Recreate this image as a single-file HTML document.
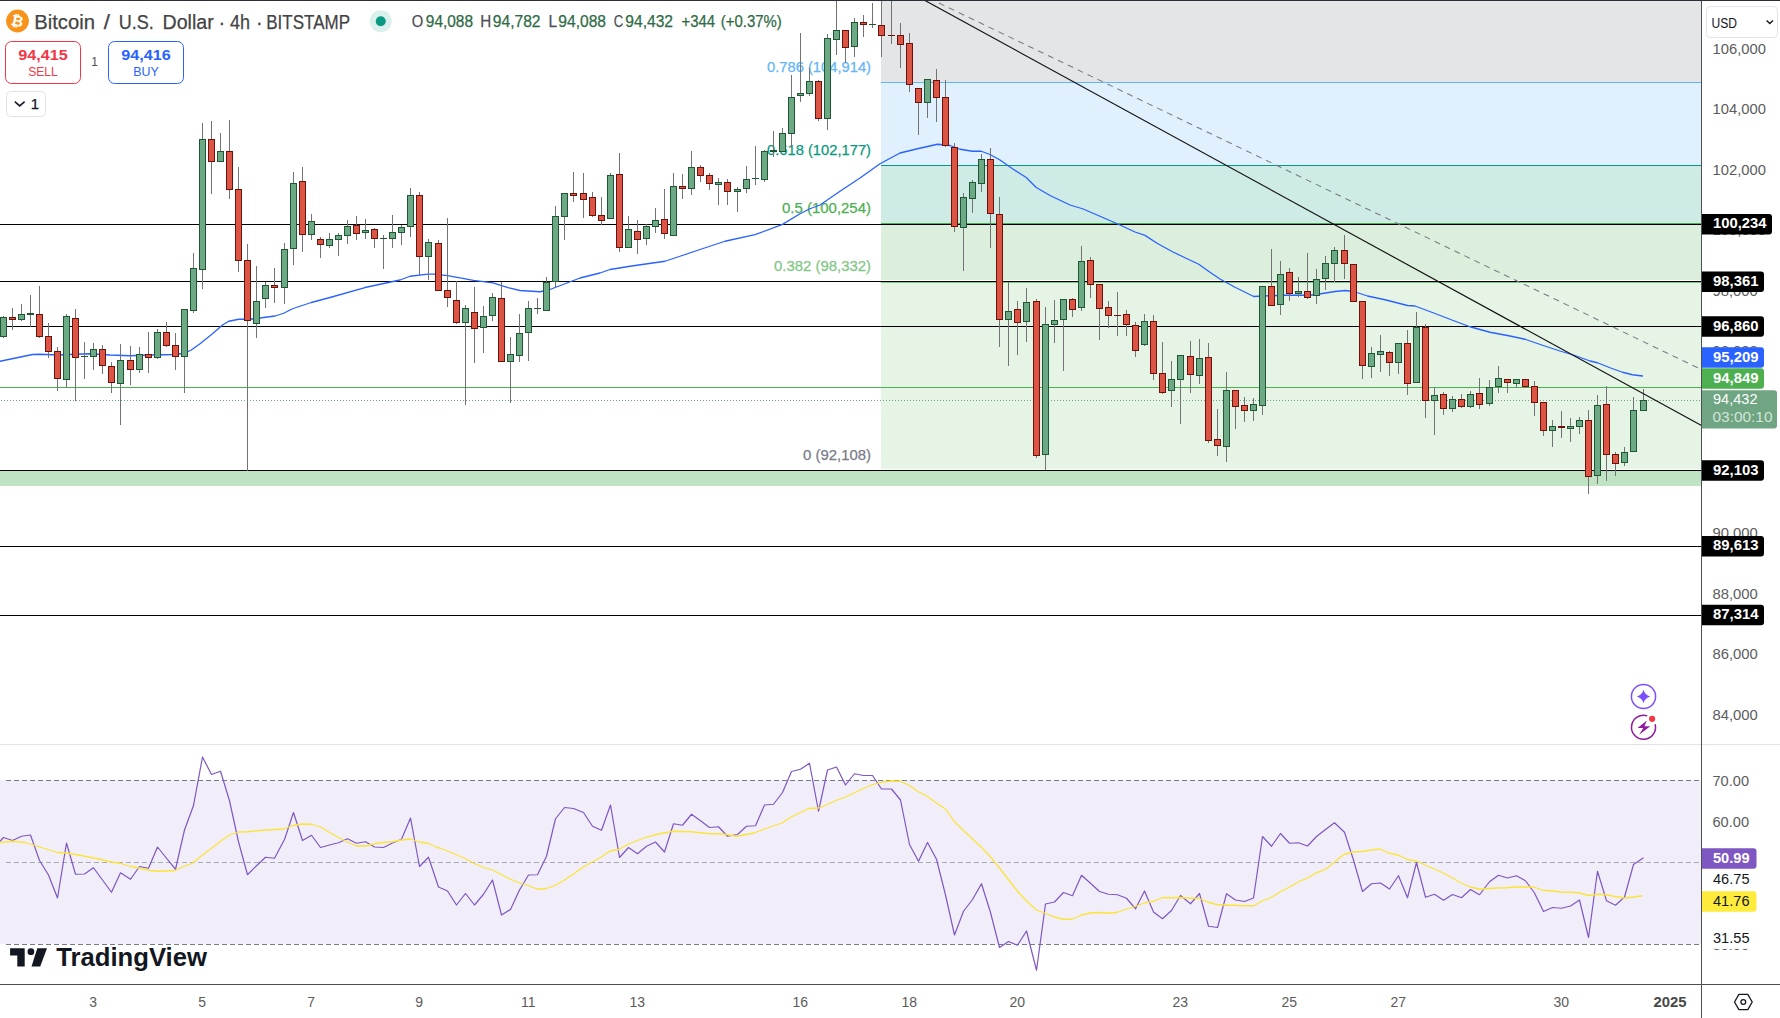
<!DOCTYPE html>
<html lang="en"><head><meta charset="utf-8"><title>BTCUSD 4h chart</title>
<style>
html,body{margin:0;padding:0;background:#fff;}
body{width:1780px;height:1018px;overflow:hidden;font-family:"Liberation Sans", "DejaVu Sans", sans-serif;}
svg{display:block;font-family:"Liberation Sans", "DejaVu Sans", sans-serif;}
text{stroke-width:0.25px;stroke-linejoin:round}
.cr{shape-rendering:crispEdges}
</style></head><body>
<svg width="1780" height="1018" viewBox="0 0 1780 1018">
<rect width="1780" height="1018" fill="#ffffff"/>

<g class="cr">
<rect x="881" y="1" width="820" height="81" fill="#e4e5e7" />
<rect x="881" y="82" width="820" height="83" fill="#e0f0fd" />
<rect x="881" y="165" width="820" height="59" fill="#ceebe6" />
<rect x="881" y="225" width="820" height="55" fill="#dcefdc" />
<rect x="881" y="283" width="820" height="186" fill="#e6f4e6" />
<rect x="881" y="82" width="820" height="1" fill="#64b5f6" />
<rect x="881" y="165" width="820" height="1" fill="#089981" />
<rect x="881" y="223" width="820" height="1" fill="#4caf50" />
<rect x="881" y="282" width="820" height="1" fill="#81c784" />
<rect x="881" y="470" width="820" height="1" fill="#787b86" />
<rect x="0" y="471" width="1701" height="14.5" fill="#c0e3c3" />
<rect x="0" y="387" width="1701" height="1" fill="#4caf50" />
<rect x="0" y="224" width="1701" height="1" fill="#000000" />
<rect x="0" y="281" width="1701" height="1" fill="#000000" />
<rect x="0" y="326" width="1701" height="1" fill="#000000" />
<rect x="0" y="470" width="1701" height="1" fill="#000000" />
<rect x="0" y="546" width="1701" height="1" fill="#000000" />
<rect x="0" y="615" width="1701" height="1" fill="#000000" />
</g>
<line x1="0.5" y1="400.5" x2="1701" y2="400.5" stroke="#6fa582" stroke-width="1" stroke-dasharray="1 2" class="cr"/>
<text x="871" y="72.37" font-size="15" fill="#64b5f6" stroke="#64b5f6" font-weight="normal" text-anchor="end" textLength="104" lengthAdjust="spacingAndGlyphs" >0.786 (104,914)</text>
<text x="871" y="155.37" font-size="15" fill="#089981" stroke="#089981" font-weight="normal" text-anchor="end" textLength="104" lengthAdjust="spacingAndGlyphs" >0.618 (102,177)</text>
<text x="871" y="213.37" font-size="15" fill="#4caf50" stroke="#4caf50" font-weight="normal" text-anchor="end" textLength="89" lengthAdjust="spacingAndGlyphs" >0.5 (100,254)</text>
<text x="871" y="271.37" font-size="15" fill="#81c784" stroke="#81c784" font-weight="normal" text-anchor="end" textLength="97" lengthAdjust="spacingAndGlyphs" >0.382 (98,332)</text>
<text x="871" y="460.37" font-size="15" fill="#787b86" stroke="#787b86" font-weight="normal" text-anchor="end" textLength="68" lengthAdjust="spacingAndGlyphs" >0 (92,108)</text>
<polyline points="0,361.25 32.5,354.5 40,354.25 57.5,355 75,354.25 90,353.75 110,355 130,355.75 150,355 175,354.5 185,353 191.25,350 200,343.75 212.5,333.75 222.5,325 228.75,321.25 238.75,319.25 250,319.25 260,318 275,316 283.75,313.25 292.5,308.75 311.25,302.5 330,297.5 365,287.5 400,280 410,276.25 428,274.2 434.6,274.2 447.6,275.7 473.5,280.4 493,282.8 508,287.6 520,290.5 540,291.75 550,289.5 565,283.75 580,278 600,273 610,269.5 630,266.25 665,261.25 680,256.25 700,249.5 725,241.25 755,234.7 782.5,224.4 800,213.75 810,208.75 820,205 840,191.25 860,178 880,163.75 900,153 917.5,148.75 937.5,144.25 950,145.5 960,149.25 972.5,151.25 981.25,151.25 990,154.5 1000,160 1012.5,168.75 1026.25,177.5 1036.25,187.5 1050,195.5 1070,205 1082.5,208.75 1100,216.25 1120,225 1135,232 1145,235.4 1157.5,243.5 1172.5,251.75 1185,257.75 1198.75,264.25 1210,272.25 1220,279 1235,287.25 1253.75,296.5 1262.5,296 1285,295.25 1310,295.25 1322.5,293.5 1335,291.5 1345,290.5 1353.75,291.5 1367.5,296 1385,299.75 1407.5,305.5 1415,306 1435,313.5 1452.5,320.25 1470,326.75 1490,332.25 1510,336 1525,339.25 1542.5,345.25 1560,351 1575,355.5 1590,361 1597.5,362.75 1610,367.75 1622.5,372.25 1632.5,374.75 1642.5,376" fill="none" stroke="#2962ff" stroke-width="1.3" stroke-linejoin="round" stroke-linecap="round"/>
<g class="cr">
<path d="M3.5,316V338M12.5,308V330M21.5,304V321M30.5,295V327M39.5,286V338M48.5,323V358M57.5,347V391M66.5,314V388M75.5,309V401M84.5,342V379M93.5,343V370M102.5,345V374M111.5,362V393M120.5,344V425M130.5,346V385M139.5,347V373M148.5,332V373M157.5,329V359M166.5,322V347M175.5,333V370M184.5,309V393M193.5,253V313M202.5,123V289M211.5,121V194M220.5,133V162M229.5,120V199M238.5,167V272M247.5,244V471M256.5,266V338M265.5,282V308M274.5,268V303M284.5,243V304M293.5,172V265M302.5,167V252M311.5,214V240M320.5,237V258M329.5,233V248M338.5,233V256M347.5,220V244M356.5,216V240M365.5,219V239M374.5,228V248M383.5,235V269M392.5,215V248M401.5,225V245M410.5,188V237M419.5,192V275M428.5,239V280M438.5,240V291M447.5,218V307M456.5,281V324M465.5,305V405M474.5,287V363M483.5,306V353M492.5,293V321M501.5,282V362M510.5,337V403M519.5,314V362M528.5,301V361M537.5,298V314M546.5,277V311M555.5,206V287M564.5,193V240M573.5,172V202M583.5,173V218M592.5,192V217M601.5,197V225M610.5,173V219M619.5,153V252M628.5,216V248M637.5,220V254M646.5,224V245M655.5,208V233M664.5,189V239M673.5,173V236M682.5,174V199M691.5,151V195M700.5,165V182M709.5,173V190M718.5,178V205M727.5,179V205M737.5,187V212M746.5,166V193M755.5,146V185M764.5,150V182M773.5,131V157M782.5,128V152M791.5,75V148M800.5,33V102M809.5,68V96M818.5,80V121M827.5,34V130M836.5,1V55M845.5,30V63M854.5,18V57M863.5,15V37M872.5,3V28M881.5,1V57M891.5,1V44M900.5,23V68M909.5,33V92M918.5,88V135M927.5,79V118M936.5,69V122M945.5,80V147M954.5,143V232M963.5,193V271M972.5,180V213M981.5,154V192M990.5,148V248M999.5,197V347M1008.5,282V366M1017.5,301V355M1026.5,288V342M1036.5,299V458M1045.5,307V470M1054.5,300V343M1063.5,299V371M1072.5,298V317M1081.5,246V311M1090.5,257V298M1099.5,284V340M1108.5,301V328M1117.5,292V336M1126.5,310V336M1135.5,322V357M1144.5,314V346M1153.5,315V380M1162.5,342V394M1171.5,361V407M1180.5,355V424M1190.5,341V393M1199.5,339V384M1208.5,343V443M1217.5,409V456M1226.5,372V462M1235.5,390V429M1244.5,397V422M1253.5,398V421M1262.5,286V415M1271.5,249V306M1280.5,261V315M1289.5,268V301M1298.5,277V297M1307.5,253V299M1316.5,269V304M1325.5,256V290M1334.5,247V282M1344.5,235V279M1353.5,264V302M1362.5,301V379M1371.5,347V378M1380.5,335V372M1389.5,351V376M1398.5,343V374M1407.5,330V395M1416.5,312V383M1425.5,324V418M1434.5,387V435M1443.5,392V415M1452.5,396V412M1461.5,394V408M1470.5,391V408M1479.5,378V409M1489.5,380V406M1498.5,366V393M1507.5,379V393M1516.5,379V388M1525.5,379V388M1534.5,381V416M1543.5,402V436M1552.5,420V447M1561.5,411V438M1570.5,418V442M1579.5,417V434M1588.5,410V494M1597.5,395V484M1606.5,386V481M1615.5,452V476M1624.5,447V466M1633.5,397V452M1643.5,389V411" stroke="#737375" stroke-width="1" fill="none"/>
<rect x="0.5" y="317.5" width="6" height="19" fill="#6ea985" stroke="#1f5734" stroke-width="1"/>
<rect x="18.5" y="314.5" width="6" height="5" fill="#6ea985" stroke="#1f5734" stroke-width="1"/>
<rect x="27" y="313" width="7" height="2" fill="#1f5734"/>
<rect x="63.5" y="316.5" width="6" height="63" fill="#6ea985" stroke="#1f5734" stroke-width="1"/>
<rect x="81" y="356" width="7" height="1" fill="#1f5734"/>
<rect x="90.5" y="349.5" width="6" height="7" fill="#6ea985" stroke="#1f5734" stroke-width="1"/>
<rect x="117.5" y="360.5" width="6" height="23" fill="#6ea985" stroke="#1f5734" stroke-width="1"/>
<rect x="136.5" y="354.5" width="6" height="15" fill="#6ea985" stroke="#1f5734" stroke-width="1"/>
<rect x="154.5" y="332.5" width="6" height="25" fill="#6ea985" stroke="#1f5734" stroke-width="1"/>
<rect x="181.5" y="309.5" width="6" height="47" fill="#6ea985" stroke="#1f5734" stroke-width="1"/>
<rect x="190.5" y="268.5" width="6" height="42" fill="#6ea985" stroke="#1f5734" stroke-width="1"/>
<rect x="199.5" y="139.5" width="6" height="130" fill="#6ea985" stroke="#1f5734" stroke-width="1"/>
<rect x="217.5" y="151.5" width="6" height="10" fill="#6ea985" stroke="#1f5734" stroke-width="1"/>
<rect x="253.5" y="301.5" width="6" height="22" fill="#6ea985" stroke="#1f5734" stroke-width="1"/>
<rect x="262.5" y="285.5" width="6" height="13" fill="#6ea985" stroke="#1f5734" stroke-width="1"/>
<rect x="281.5" y="249.5" width="6" height="38" fill="#6ea985" stroke="#1f5734" stroke-width="1"/>
<rect x="290.5" y="183.5" width="6" height="65" fill="#6ea985" stroke="#1f5734" stroke-width="1"/>
<rect x="308.5" y="221.5" width="6" height="13" fill="#6ea985" stroke="#1f5734" stroke-width="1"/>
<rect x="326.5" y="239.5" width="6" height="6" fill="#6ea985" stroke="#1f5734" stroke-width="1"/>
<rect x="335.5" y="235.5" width="6" height="4" fill="#6ea985" stroke="#1f5734" stroke-width="1"/>
<rect x="344.5" y="226.5" width="6" height="9" fill="#6ea985" stroke="#1f5734" stroke-width="1"/>
<rect x="362.5" y="230.5" width="6" height="2" fill="#6ea985" stroke="#1f5734" stroke-width="1"/>
<rect x="380" y="238" width="7" height="1" fill="#1f5734"/>
<rect x="389.5" y="232.5" width="6" height="6" fill="#6ea985" stroke="#1f5734" stroke-width="1"/>
<rect x="398.5" y="227.5" width="6" height="5" fill="#6ea985" stroke="#1f5734" stroke-width="1"/>
<rect x="407.5" y="195.5" width="6" height="31" fill="#6ea985" stroke="#1f5734" stroke-width="1"/>
<rect x="425.5" y="242.5" width="6" height="14" fill="#6ea985" stroke="#1f5734" stroke-width="1"/>
<rect x="462.5" y="308.5" width="6" height="14" fill="#6ea985" stroke="#1f5734" stroke-width="1"/>
<rect x="480.5" y="316.5" width="6" height="11" fill="#6ea985" stroke="#1f5734" stroke-width="1"/>
<rect x="489.5" y="297.5" width="6" height="18" fill="#6ea985" stroke="#1f5734" stroke-width="1"/>
<rect x="507.5" y="354.5" width="6" height="7" fill="#6ea985" stroke="#1f5734" stroke-width="1"/>
<rect x="516.5" y="333.5" width="6" height="22" fill="#6ea985" stroke="#1f5734" stroke-width="1"/>
<rect x="525.5" y="308.5" width="6" height="24" fill="#6ea985" stroke="#1f5734" stroke-width="1"/>
<rect x="534" y="308" width="7" height="1" fill="#1f5734"/>
<rect x="543.5" y="282.5" width="6" height="28" fill="#6ea985" stroke="#1f5734" stroke-width="1"/>
<rect x="552.5" y="216.5" width="6" height="65" fill="#6ea985" stroke="#1f5734" stroke-width="1"/>
<rect x="561.5" y="193.5" width="6" height="23" fill="#6ea985" stroke="#1f5734" stroke-width="1"/>
<rect x="607.5" y="175.5" width="6" height="43" fill="#6ea985" stroke="#1f5734" stroke-width="1"/>
<rect x="625.5" y="229.5" width="6" height="18" fill="#6ea985" stroke="#1f5734" stroke-width="1"/>
<rect x="643.5" y="226.5" width="6" height="12" fill="#6ea985" stroke="#1f5734" stroke-width="1"/>
<rect x="652.5" y="220.5" width="6" height="6" fill="#6ea985" stroke="#1f5734" stroke-width="1"/>
<rect x="670.5" y="186.5" width="6" height="49" fill="#6ea985" stroke="#1f5734" stroke-width="1"/>
<rect x="688.5" y="167.5" width="6" height="21" fill="#6ea985" stroke="#1f5734" stroke-width="1"/>
<rect x="715.5" y="182.5" width="6" height="2" fill="#6ea985" stroke="#1f5734" stroke-width="1"/>
<rect x="734.5" y="189.5" width="6" height="2" fill="#6ea985" stroke="#1f5734" stroke-width="1"/>
<rect x="743.5" y="179.5" width="6" height="9" fill="#6ea985" stroke="#1f5734" stroke-width="1"/>
<rect x="752" y="178" width="7" height="1" fill="#1f5734"/>
<rect x="761.5" y="151.5" width="6" height="28" fill="#6ea985" stroke="#1f5734" stroke-width="1"/>
<rect x="770" y="150" width="7" height="2" fill="#1f5734"/>
<rect x="779.5" y="133.5" width="6" height="18" fill="#6ea985" stroke="#1f5734" stroke-width="1"/>
<rect x="788.5" y="97.5" width="6" height="36" fill="#6ea985" stroke="#1f5734" stroke-width="1"/>
<rect x="797.5" y="93.5" width="6" height="2" fill="#6ea985" stroke="#1f5734" stroke-width="1"/>
<rect x="806.5" y="81.5" width="6" height="12" fill="#6ea985" stroke="#1f5734" stroke-width="1"/>
<rect x="824.5" y="38.5" width="6" height="80" fill="#6ea985" stroke="#1f5734" stroke-width="1"/>
<rect x="833.5" y="30.5" width="6" height="9" fill="#6ea985" stroke="#1f5734" stroke-width="1"/>
<rect x="851.5" y="22.5" width="6" height="24" fill="#6ea985" stroke="#1f5734" stroke-width="1"/>
<rect x="869" y="24" width="7" height="1" fill="#1f5734"/>
<rect x="924.5" y="79.5" width="6" height="23" fill="#6ea985" stroke="#1f5734" stroke-width="1"/>
<rect x="960.5" y="197.5" width="6" height="30" fill="#6ea985" stroke="#1f5734" stroke-width="1"/>
<rect x="969.5" y="182.5" width="6" height="16" fill="#6ea985" stroke="#1f5734" stroke-width="1"/>
<rect x="978.5" y="159.5" width="6" height="24" fill="#6ea985" stroke="#1f5734" stroke-width="1"/>
<rect x="1005.5" y="311.5" width="6" height="8" fill="#6ea985" stroke="#1f5734" stroke-width="1"/>
<rect x="1023.5" y="302.5" width="6" height="19" fill="#6ea985" stroke="#1f5734" stroke-width="1"/>
<rect x="1042.5" y="324.5" width="6" height="130" fill="#6ea985" stroke="#1f5734" stroke-width="1"/>
<rect x="1051.5" y="320.5" width="6" height="4" fill="#6ea985" stroke="#1f5734" stroke-width="1"/>
<rect x="1060.5" y="299.5" width="6" height="20" fill="#6ea985" stroke="#1f5734" stroke-width="1"/>
<rect x="1078.5" y="261.5" width="6" height="46" fill="#6ea985" stroke="#1f5734" stroke-width="1"/>
<rect x="1141.5" y="321.5" width="6" height="23" fill="#6ea985" stroke="#1f5734" stroke-width="1"/>
<rect x="1168.5" y="379.5" width="6" height="11" fill="#6ea985" stroke="#1f5734" stroke-width="1"/>
<rect x="1177.5" y="355.5" width="6" height="24" fill="#6ea985" stroke="#1f5734" stroke-width="1"/>
<rect x="1196.5" y="358.5" width="6" height="17" fill="#6ea985" stroke="#1f5734" stroke-width="1"/>
<rect x="1223.5" y="390.5" width="6" height="56" fill="#6ea985" stroke="#1f5734" stroke-width="1"/>
<rect x="1250.5" y="404.5" width="6" height="6" fill="#6ea985" stroke="#1f5734" stroke-width="1"/>
<rect x="1259.5" y="286.5" width="6" height="119" fill="#6ea985" stroke="#1f5734" stroke-width="1"/>
<rect x="1277.5" y="274.5" width="6" height="30" fill="#6ea985" stroke="#1f5734" stroke-width="1"/>
<rect x="1295.5" y="291.5" width="6" height="2" fill="#6ea985" stroke="#1f5734" stroke-width="1"/>
<rect x="1313.5" y="279.5" width="6" height="16" fill="#6ea985" stroke="#1f5734" stroke-width="1"/>
<rect x="1322.5" y="263.5" width="6" height="15" fill="#6ea985" stroke="#1f5734" stroke-width="1"/>
<rect x="1331.5" y="250.5" width="6" height="13" fill="#6ea985" stroke="#1f5734" stroke-width="1"/>
<rect x="1368.5" y="353.5" width="6" height="13" fill="#6ea985" stroke="#1f5734" stroke-width="1"/>
<rect x="1377.5" y="351.5" width="6" height="3" fill="#6ea985" stroke="#1f5734" stroke-width="1"/>
<rect x="1395.5" y="343.5" width="6" height="19" fill="#6ea985" stroke="#1f5734" stroke-width="1"/>
<rect x="1413.5" y="327.5" width="6" height="55" fill="#6ea985" stroke="#1f5734" stroke-width="1"/>
<rect x="1431.5" y="395.5" width="6" height="5" fill="#6ea985" stroke="#1f5734" stroke-width="1"/>
<rect x="1449.5" y="399.5" width="6" height="9" fill="#6ea985" stroke="#1f5734" stroke-width="1"/>
<rect x="1467.5" y="394.5" width="6" height="12" fill="#6ea985" stroke="#1f5734" stroke-width="1"/>
<rect x="1486.5" y="387.5" width="6" height="16" fill="#6ea985" stroke="#1f5734" stroke-width="1"/>
<rect x="1495.5" y="378.5" width="6" height="8" fill="#6ea985" stroke="#1f5734" stroke-width="1"/>
<rect x="1513.5" y="379.5" width="6" height="4" fill="#6ea985" stroke="#1f5734" stroke-width="1"/>
<rect x="1549.5" y="426.5" width="6" height="4" fill="#6ea985" stroke="#1f5734" stroke-width="1"/>
<rect x="1567.5" y="426.5" width="6" height="2" fill="#6ea985" stroke="#1f5734" stroke-width="1"/>
<rect x="1576.5" y="420.5" width="6" height="6" fill="#6ea985" stroke="#1f5734" stroke-width="1"/>
<rect x="1594.5" y="405.5" width="6" height="70" fill="#6ea985" stroke="#1f5734" stroke-width="1"/>
<rect x="1621.5" y="452.5" width="6" height="10" fill="#6ea985" stroke="#1f5734" stroke-width="1"/>
<rect x="1630.5" y="410.5" width="6" height="41" fill="#6ea985" stroke="#1f5734" stroke-width="1"/>
<rect x="1640.5" y="400.5" width="6" height="10" fill="#6ea985" stroke="#1f5734" stroke-width="1"/>
<rect x="9.5" y="317.5" width="6" height="2" fill="#dc5443" stroke="#6b120c" stroke-width="1"/>
<rect x="36.5" y="314.5" width="6" height="22" fill="#dc5443" stroke="#6b120c" stroke-width="1"/>
<rect x="45.5" y="336.5" width="6" height="15" fill="#dc5443" stroke="#6b120c" stroke-width="1"/>
<rect x="54.5" y="351.5" width="6" height="27" fill="#dc5443" stroke="#6b120c" stroke-width="1"/>
<rect x="72.5" y="318.5" width="6" height="39" fill="#dc5443" stroke="#6b120c" stroke-width="1"/>
<rect x="99.5" y="349.5" width="6" height="16" fill="#dc5443" stroke="#6b120c" stroke-width="1"/>
<rect x="108.5" y="366.5" width="6" height="16" fill="#dc5443" stroke="#6b120c" stroke-width="1"/>
<rect x="127.5" y="360.5" width="6" height="9" fill="#dc5443" stroke="#6b120c" stroke-width="1"/>
<rect x="145.5" y="354.5" width="6" height="3" fill="#dc5443" stroke="#6b120c" stroke-width="1"/>
<rect x="163.5" y="332.5" width="6" height="13" fill="#dc5443" stroke="#6b120c" stroke-width="1"/>
<rect x="172.5" y="345.5" width="6" height="11" fill="#dc5443" stroke="#6b120c" stroke-width="1"/>
<rect x="208.5" y="139.5" width="6" height="22" fill="#dc5443" stroke="#6b120c" stroke-width="1"/>
<rect x="226.5" y="151.5" width="6" height="38" fill="#dc5443" stroke="#6b120c" stroke-width="1"/>
<rect x="235.5" y="189.5" width="6" height="71" fill="#dc5443" stroke="#6b120c" stroke-width="1"/>
<rect x="244.5" y="260.5" width="6" height="60" fill="#dc5443" stroke="#6b120c" stroke-width="1"/>
<rect x="271.5" y="285.5" width="6" height="2" fill="#dc5443" stroke="#6b120c" stroke-width="1"/>
<rect x="299.5" y="181.5" width="6" height="53" fill="#dc5443" stroke="#6b120c" stroke-width="1"/>
<rect x="317.5" y="239.5" width="6" height="5" fill="#dc5443" stroke="#6b120c" stroke-width="1"/>
<rect x="353.5" y="225.5" width="6" height="8" fill="#dc5443" stroke="#6b120c" stroke-width="1"/>
<rect x="371.5" y="229.5" width="6" height="9" fill="#dc5443" stroke="#6b120c" stroke-width="1"/>
<rect x="416.5" y="195.5" width="6" height="61" fill="#dc5443" stroke="#6b120c" stroke-width="1"/>
<rect x="435.5" y="243.5" width="6" height="47" fill="#dc5443" stroke="#6b120c" stroke-width="1"/>
<rect x="444.5" y="290.5" width="6" height="7" fill="#dc5443" stroke="#6b120c" stroke-width="1"/>
<rect x="453.5" y="300.5" width="6" height="22" fill="#dc5443" stroke="#6b120c" stroke-width="1"/>
<rect x="471.5" y="312.5" width="6" height="16" fill="#dc5443" stroke="#6b120c" stroke-width="1"/>
<rect x="498.5" y="298.5" width="6" height="63" fill="#dc5443" stroke="#6b120c" stroke-width="1"/>
<rect x="570.5" y="193.5" width="6" height="2" fill="#dc5443" stroke="#6b120c" stroke-width="1"/>
<rect x="580.5" y="193.5" width="6" height="6" fill="#dc5443" stroke="#6b120c" stroke-width="1"/>
<rect x="589.5" y="197.5" width="6" height="18" fill="#dc5443" stroke="#6b120c" stroke-width="1"/>
<rect x="598.5" y="215.5" width="6" height="5" fill="#dc5443" stroke="#6b120c" stroke-width="1"/>
<rect x="616.5" y="174.5" width="6" height="73" fill="#dc5443" stroke="#6b120c" stroke-width="1"/>
<rect x="634.5" y="231.5" width="6" height="8" fill="#dc5443" stroke="#6b120c" stroke-width="1"/>
<rect x="661.5" y="219.5" width="6" height="14" fill="#dc5443" stroke="#6b120c" stroke-width="1"/>
<rect x="679.5" y="186.5" width="6" height="2" fill="#dc5443" stroke="#6b120c" stroke-width="1"/>
<rect x="697.5" y="167.5" width="6" height="8" fill="#dc5443" stroke="#6b120c" stroke-width="1"/>
<rect x="706.5" y="175.5" width="6" height="8" fill="#dc5443" stroke="#6b120c" stroke-width="1"/>
<rect x="724.5" y="182.5" width="6" height="9" fill="#dc5443" stroke="#6b120c" stroke-width="1"/>
<rect x="815.5" y="81.5" width="6" height="37" fill="#dc5443" stroke="#6b120c" stroke-width="1"/>
<rect x="842.5" y="30.5" width="6" height="17" fill="#dc5443" stroke="#6b120c" stroke-width="1"/>
<rect x="860.5" y="22.5" width="6" height="2" fill="#dc5443" stroke="#6b120c" stroke-width="1"/>
<rect x="878.5" y="25.5" width="6" height="10" fill="#dc5443" stroke="#6b120c" stroke-width="1"/>
<rect x="888" y="35" width="7" height="1" fill="#6b120c"/>
<rect x="897.5" y="35.5" width="6" height="9" fill="#dc5443" stroke="#6b120c" stroke-width="1"/>
<rect x="906.5" y="43.5" width="6" height="41" fill="#dc5443" stroke="#6b120c" stroke-width="1"/>
<rect x="915.5" y="88.5" width="6" height="14" fill="#dc5443" stroke="#6b120c" stroke-width="1"/>
<rect x="933.5" y="80.5" width="6" height="17" fill="#dc5443" stroke="#6b120c" stroke-width="1"/>
<rect x="942.5" y="97.5" width="6" height="48" fill="#dc5443" stroke="#6b120c" stroke-width="1"/>
<rect x="951.5" y="147.5" width="6" height="79" fill="#dc5443" stroke="#6b120c" stroke-width="1"/>
<rect x="987.5" y="159.5" width="6" height="54" fill="#dc5443" stroke="#6b120c" stroke-width="1"/>
<rect x="996.5" y="214.5" width="6" height="105" fill="#dc5443" stroke="#6b120c" stroke-width="1"/>
<rect x="1014.5" y="309.5" width="6" height="13" fill="#dc5443" stroke="#6b120c" stroke-width="1"/>
<rect x="1033.5" y="301.5" width="6" height="154" fill="#dc5443" stroke="#6b120c" stroke-width="1"/>
<rect x="1069.5" y="299.5" width="6" height="10" fill="#dc5443" stroke="#6b120c" stroke-width="1"/>
<rect x="1087.5" y="260.5" width="6" height="24" fill="#dc5443" stroke="#6b120c" stroke-width="1"/>
<rect x="1096.5" y="284.5" width="6" height="24" fill="#dc5443" stroke="#6b120c" stroke-width="1"/>
<rect x="1105.5" y="307.5" width="6" height="8" fill="#dc5443" stroke="#6b120c" stroke-width="1"/>
<rect x="1114" y="315" width="7" height="1" fill="#6b120c"/>
<rect x="1123.5" y="314.5" width="6" height="10" fill="#dc5443" stroke="#6b120c" stroke-width="1"/>
<rect x="1132.5" y="325.5" width="6" height="25" fill="#dc5443" stroke="#6b120c" stroke-width="1"/>
<rect x="1150.5" y="321.5" width="6" height="52" fill="#dc5443" stroke="#6b120c" stroke-width="1"/>
<rect x="1159.5" y="373.5" width="6" height="19" fill="#dc5443" stroke="#6b120c" stroke-width="1"/>
<rect x="1187.5" y="356.5" width="6" height="18" fill="#dc5443" stroke="#6b120c" stroke-width="1"/>
<rect x="1205.5" y="357.5" width="6" height="83" fill="#dc5443" stroke="#6b120c" stroke-width="1"/>
<rect x="1214.5" y="439.5" width="6" height="6" fill="#dc5443" stroke="#6b120c" stroke-width="1"/>
<rect x="1232.5" y="390.5" width="6" height="16" fill="#dc5443" stroke="#6b120c" stroke-width="1"/>
<rect x="1241.5" y="405.5" width="6" height="5" fill="#dc5443" stroke="#6b120c" stroke-width="1"/>
<rect x="1268.5" y="286.5" width="6" height="19" fill="#dc5443" stroke="#6b120c" stroke-width="1"/>
<rect x="1286.5" y="272.5" width="6" height="21" fill="#dc5443" stroke="#6b120c" stroke-width="1"/>
<rect x="1304.5" y="291.5" width="6" height="6" fill="#dc5443" stroke="#6b120c" stroke-width="1"/>
<rect x="1341.5" y="250.5" width="6" height="13" fill="#dc5443" stroke="#6b120c" stroke-width="1"/>
<rect x="1350.5" y="264.5" width="6" height="37" fill="#dc5443" stroke="#6b120c" stroke-width="1"/>
<rect x="1359.5" y="301.5" width="6" height="64" fill="#dc5443" stroke="#6b120c" stroke-width="1"/>
<rect x="1386.5" y="352.5" width="6" height="10" fill="#dc5443" stroke="#6b120c" stroke-width="1"/>
<rect x="1404.5" y="343.5" width="6" height="40" fill="#dc5443" stroke="#6b120c" stroke-width="1"/>
<rect x="1422.5" y="327.5" width="6" height="73" fill="#dc5443" stroke="#6b120c" stroke-width="1"/>
<rect x="1440.5" y="394.5" width="6" height="14" fill="#dc5443" stroke="#6b120c" stroke-width="1"/>
<rect x="1458.5" y="399.5" width="6" height="7" fill="#dc5443" stroke="#6b120c" stroke-width="1"/>
<rect x="1476.5" y="393.5" width="6" height="11" fill="#dc5443" stroke="#6b120c" stroke-width="1"/>
<rect x="1504.5" y="379.5" width="6" height="3" fill="#dc5443" stroke="#6b120c" stroke-width="1"/>
<rect x="1522.5" y="379.5" width="6" height="7" fill="#dc5443" stroke="#6b120c" stroke-width="1"/>
<rect x="1531.5" y="386.5" width="6" height="16" fill="#dc5443" stroke="#6b120c" stroke-width="1"/>
<rect x="1540.5" y="402.5" width="6" height="28" fill="#dc5443" stroke="#6b120c" stroke-width="1"/>
<rect x="1558" y="426" width="7" height="2" fill="#6b120c"/>
<rect x="1585.5" y="420.5" width="6" height="56" fill="#dc5443" stroke="#6b120c" stroke-width="1"/>
<rect x="1603.5" y="404.5" width="6" height="50" fill="#dc5443" stroke="#6b120c" stroke-width="1"/>
<rect x="1612.5" y="454.5" width="6" height="9" fill="#dc5443" stroke="#6b120c" stroke-width="1"/>
</g>
<line x1="924.1" y1="0" x2="1701.5" y2="425.6" stroke="#111" stroke-width="1.15"/>
<line x1="932.6" y1="0" x2="1701.5" y2="369.6" stroke="#787b84" stroke-width="1.05" stroke-dasharray="6 5" stroke-dashoffset="4"/>
<g class="cr">
<rect x="0" y="780" width="1701" height="164" fill="#f1eef9" />
</g>
<line x1="6" y1="780.5" x2="1701" y2="780.5" stroke="#787b86" stroke-width="1" stroke-dasharray="5 3" class="cr"/>
<line x1="6" y1="944.5" x2="1701" y2="944.5" stroke="#787b86" stroke-width="1" stroke-dasharray="5 3" class="cr"/>
<line x1="6" y1="862.5" x2="1701" y2="862.5" stroke="#a9abb3" stroke-width="1" stroke-dasharray="5 3" class="cr"/>
<polyline points="0,841.25 3.5,837.5 12.5,840.5 21.5,836.25 30.5,835 39.5,860.5 48.5,875 57.5,898 66.5,843 75.5,874.25 84.5,874 93.5,867.75 102.5,880 111.5,892.25 120.5,872.75 130.5,879.25 139.5,866.5 148.5,868.25 157.5,847 166.5,858.25 175.5,869.25 184.5,830 193.5,805.5 202.5,757 211.5,774.5 220.5,771.25 229.5,800.75 238.5,841.75 247.5,874.75 256.5,865.75 265.5,857.25 274.5,858.25 284.5,839.5 293.5,812.5 302.5,840.5 311.5,835.25 320.5,847.5 329.5,845 338.5,842.75 347.5,838.75 356.5,843.25 365.5,841.75 374.5,847 383.5,847.5 392.5,843 401.5,839.25 410.5,818 419.5,866.5 428.5,857.25 438.5,887 447.5,891 456.5,905 465.5,893.5 474.5,905 483.5,894.25 492.5,880 501.5,915 510.5,909.5 519.5,890 528.5,875 537.5,874.75 546.5,856.25 555.5,818.75 564.5,807.5 573.5,808.5 583.5,812.5 592.5,826.25 601.5,830.25 610.5,805 619.5,857.5 628.5,847.5 637.5,853.75 646.5,846.25 655.5,842 664.5,852 673.5,823.75 682.5,825.25 691.5,814.25 700.5,820.75 709.5,827.5 718.5,826.75 727.5,836.25 737.5,834.5 746.5,826.25 755.5,825.75 764.5,805 773.5,804.25 782.5,792.5 791.5,771.5 800.5,769.25 809.5,763.25 818.5,811.25 827.5,770 836.5,767 845.5,785 854.5,773.75 863.5,775.5 872.5,775.5 881.5,789 891.5,789 900.5,800 909.5,844.5 918.5,861.25 927.5,842.5 936.5,859.25 945.5,895 954.5,935 963.5,911.25 972.5,899.5 981.5,883.75 990.5,912.5 999.5,947.5 1008.5,941.5 1017.5,945.25 1026.5,931 1036.5,970.25 1045.5,904 1054.5,902 1063.5,892.5 1072.5,895.75 1081.5,875.25 1090.5,883.25 1099.5,891.5 1108.5,894.25 1117.5,894.75 1126.5,898.25 1135.5,908.75 1144.5,891 1153.5,912 1162.5,918.75 1171.5,910.5 1180.5,895.5 1190.5,903.75 1199.5,893.5 1208.5,926.25 1217.5,927.5 1226.5,893.75 1235.5,900 1244.5,901.5 1253.5,898 1262.5,836.5 1271.5,846.25 1280.5,833.5 1289.5,843.25 1298.5,842.75 1307.5,846 1316.5,836.5 1325.5,829.5 1334.5,822.75 1344.5,832.25 1353.5,860 1362.5,891.5 1371.5,883.75 1380.5,883 1389.5,889 1398.5,875.75 1407.5,897.75 1416.5,862.5 1425.5,897.25 1434.5,894.25 1443.5,900.25 1452.5,894.5 1461.5,897.75 1470.5,889.5 1479.5,894.75 1489.5,881.75 1498.5,875.25 1507.5,878 1516.5,875.75 1525.5,880.75 1534.5,893 1543.5,911.5 1552.5,907.5 1561.5,908.25 1570.5,906 1579.5,900 1588.5,937.5 1597.5,871.25 1606.5,900.75 1615.5,905.25 1624.5,897 1633.5,864.5 1643.5,857.75" fill="none" stroke="#7e57c2" stroke-width="1.2" stroke-linejoin="round"/>
<polyline points="0,842.5 12.5,841.25 25,842.5 40,847 57.5,852.5 66.5,853 82.5,855.75 100,859.25 110,861.75 120,863.25 130,866.25 140,868.25 150,870.5 160,871.25 175,870.5 184.25,866.25 192.5,863.25 202.5,855 212.5,847.5 220.5,841.25 229.5,835 238.5,832 247.5,831.75 260,830.5 275,829.5 283.75,829 292.75,825.5 301.75,824 311.5,824.25 320.5,827 329.5,832.5 338.5,837.5 347.5,842 356.5,846 365.5,846 374.5,843.75 383.5,842.5 392.5,841.75 401.5,840 410.5,839 419.5,842 428.5,843.5 437.5,847.5 440,848 452.5,853 465,858.5 473.75,863.25 482.5,867 492.5,870 501.25,874.5 510,879 519.75,883 528.75,885.75 537.75,889.25 546.25,888.5 555,885.5 564.5,880 573.75,873.75 582.5,867.5 591.25,862.5 601.25,857 610,851 618.75,849.5 627.5,844.5 637.5,840.5 646.25,837.25 655,834.75 663.75,833 673.75,831.25 682.5,831.5 691.25,831.75 700,832.75 709.5,833.75 718.25,833.75 727.5,834.5 736.25,836.5 746.25,834.5 755,832.75 763.75,829.25 772.5,826.25 782,823 791.25,817 800,812.75 808.75,808.5 818.75,808 827.5,804.5 836.25,800.25 845,797.25 855,792.5 863.75,788.25 872.5,784.75 880,782.5 891.25,781 900,781.25 908.75,785 917.5,791.25 927.25,796.25 936.75,803.25 945.75,809.25 953.75,820.75 963.75,830.75 973,839.5 981.25,847 991,857.5 1000,868.75 1008.75,880 1017.5,891.25 1026.25,900.75 1036.25,910 1045,913 1053.75,916.75 1062.75,919.25 1072,919.25 1081.5,915 1090,913 1098.75,912.5 1108.75,913.25 1117.5,912.25 1126.5,909 1135,906.5 1145,902.75 1153.75,901.25 1162.5,897.5 1171.25,897.75 1181.25,897.5 1190,898.25 1198.75,898.25 1207.5,902 1217.5,904.75 1226.25,905.25 1235.25,905.25 1244,905.75 1253.75,905.75 1262.5,900.75 1271.25,897.5 1280,892 1290,886.75 1298.75,881.75 1307.5,878 1316.75,872.5 1320,871.75 1326.25,868.75 1335,861.75 1343.75,854.5 1353,852 1362,851.5 1371.25,850 1380,849 1388.75,853 1398.75,855.25 1407.5,859.5 1416.25,861 1425,865 1433.75,868.75 1443.75,873.25 1452.5,878 1461.5,883.25 1470,887 1480,889.25 1488.75,888.5 1497.5,888 1506.25,887.75 1516.25,887 1525,887 1533.75,887 1542.5,890.25 1552.5,891 1561.25,892 1570,892.25 1578.75,892.75 1588.5,895.5 1597.25,894.25 1606.25,894.75 1615,896.5 1624.5,898 1633.75,897 1642.5,895.75" fill="none" stroke="#fbe43a" stroke-width="1.3" stroke-linejoin="round"/>
<g class="cr">
<rect x="1702" y="1" width="78" height="1017" fill="#ffffff" />
<rect x="0" y="744" width="1780" height="1" fill="#e0e3eb" />
<rect x="0" y="984" width="1780" height="34" fill="#ffffff" />
<rect x="0" y="984" width="1780" height="1" fill="#4e4f55" />
<rect x="1701" y="0" width="1" height="1018" fill="#4e4f55" />
<rect x="0" y="0" width="1780" height="1" fill="#2a2e39" />
</g>
<text x="1712.5" y="53.51" font-size="14" fill="#5c5c5c" font-weight="normal" text-anchor="start" textLength="53.4" lengthAdjust="spacingAndGlyphs" >106,000</text>
<text x="1712.5" y="114.10" font-size="14" fill="#5c5c5c" font-weight="normal" text-anchor="start" textLength="53.4" lengthAdjust="spacingAndGlyphs" >104,000</text>
<text x="1712.5" y="174.69" font-size="14" fill="#5c5c5c" font-weight="normal" text-anchor="start" textLength="53.4" lengthAdjust="spacingAndGlyphs" >102,000</text>
<text x="1712.5" y="235.28" font-size="14" fill="#5c5c5c" font-weight="normal" text-anchor="start" textLength="53.4" lengthAdjust="spacingAndGlyphs" >100,000</text>
<text x="1712.5" y="295.88" font-size="14" fill="#5c5c5c" font-weight="normal" text-anchor="start" textLength="45.3" lengthAdjust="spacingAndGlyphs" >98,000</text>
<text x="1712.5" y="356.47" font-size="14" fill="#5c5c5c" font-weight="normal" text-anchor="start" textLength="45.3" lengthAdjust="spacingAndGlyphs" >96,000</text>
<text x="1712.5" y="417.06" font-size="14" fill="#5c5c5c" font-weight="normal" text-anchor="start" textLength="45.3" lengthAdjust="spacingAndGlyphs" >94,000</text>
<text x="1712.5" y="477.65" font-size="14" fill="#5c5c5c" font-weight="normal" text-anchor="start" textLength="45.3" lengthAdjust="spacingAndGlyphs" >92,000</text>
<text x="1712.5" y="538.24" font-size="14" fill="#5c5c5c" font-weight="normal" text-anchor="start" textLength="45.3" lengthAdjust="spacingAndGlyphs" >90,000</text>
<text x="1712.5" y="598.83" font-size="14" fill="#5c5c5c" font-weight="normal" text-anchor="start" textLength="45.3" lengthAdjust="spacingAndGlyphs" >88,000</text>
<text x="1712.5" y="659.42" font-size="14" fill="#5c5c5c" font-weight="normal" text-anchor="start" textLength="45.3" lengthAdjust="spacingAndGlyphs" >86,000</text>
<text x="1712.5" y="720.01" font-size="14" fill="#5c5c5c" font-weight="normal" text-anchor="start" textLength="45.3" lengthAdjust="spacingAndGlyphs" >84,000</text>
<path d="M1702,214.05h67a3,3 0 0 1 3,3v14.5a3,3 0 0 1 -3,3h-67z" fill="#000"/>
<text x="1713" y="228.41" font-size="14" fill="#fff" font-weight="bold" text-anchor="start" textLength="53.5" lengthAdjust="spacingAndGlyphs" >100,234</text>
<path d="M1702,271.45h59a3,3 0 0 1 3,3v14.5a3,3 0 0 1 -3,3h-59z" fill="#000"/>
<text x="1713" y="285.81" font-size="14" fill="#fff" font-weight="bold" text-anchor="start" textLength="45.5" lengthAdjust="spacingAndGlyphs" >98,361</text>
<path d="M1702,316.35h59a3,3 0 0 1 3,3v14.5a3,3 0 0 1 -3,3h-59z" fill="#000"/>
<text x="1713" y="330.71" font-size="14" fill="#fff" font-weight="bold" text-anchor="start" textLength="45.5" lengthAdjust="spacingAndGlyphs" >96,860</text>
<path d="M1702,347.25h59a3,3 0 0 1 3,3v14.5a3,3 0 0 1 -3,3h-59z" fill="#2962ff"/>
<text x="1713" y="361.61" font-size="14" fill="#fff" font-weight="bold" text-anchor="start" textLength="45.5" lengthAdjust="spacingAndGlyphs" >95,209</text>
<path d="M1702,368.25h59a3,3 0 0 1 3,3v14.5a3,3 0 0 1 -3,3h-59z" fill="#4caf50"/>
<text x="1713" y="382.61" font-size="14" fill="#fff" font-weight="bold" text-anchor="start" textLength="45.5" lengthAdjust="spacingAndGlyphs" >94,849</text>
<path d="M1702,460.15h59a3,3 0 0 1 3,3v14.5a3,3 0 0 1 -3,3h-59z" fill="#000"/>
<text x="1713" y="474.51" font-size="14" fill="#fff" font-weight="bold" text-anchor="start" textLength="45.5" lengthAdjust="spacingAndGlyphs" >92,103</text>
<path d="M1702,535.95h59a3,3 0 0 1 3,3v14.5a3,3 0 0 1 -3,3h-59z" fill="#000"/>
<text x="1713" y="550.31" font-size="14" fill="#fff" font-weight="bold" text-anchor="start" textLength="45.5" lengthAdjust="spacingAndGlyphs" >89,613</text>
<path d="M1702,604.75h59a3,3 0 0 1 3,3v14.5a3,3 0 0 1 -3,3h-59z" fill="#000"/>
<text x="1713" y="619.11" font-size="14" fill="#fff" font-weight="bold" text-anchor="start" textLength="45.5" lengthAdjust="spacingAndGlyphs" >87,314</text>
<path d="M1702,390.25h72a3,3 0 0 1 3,3v32.25a3,3 0 0 1 -3,3h-72z" fill="#6fa582"/>
<text x="1713" y="404.31" font-size="14" fill="#fff" font-weight="normal" text-anchor="start" textLength="44.5" lengthAdjust="spacingAndGlyphs" >94,432</text>
<text x="1712.5" y="422.41" font-size="14" fill="#d3e4d9" font-weight="normal" text-anchor="start" textLength="60" lengthAdjust="spacingAndGlyphs" >03:00:10</text>
<text x="1712.5" y="785.76" font-size="14" fill="#5c5c5c" font-weight="normal" text-anchor="start" textLength="36.5" lengthAdjust="spacingAndGlyphs" >70.00</text>
<text x="1712.5" y="826.76" font-size="14" fill="#5c5c5c" font-weight="normal" text-anchor="start" textLength="36.5" lengthAdjust="spacingAndGlyphs" >60.00</text>
<text x="1712.5" y="950.01" font-size="14" fill="#5c5c5c" font-weight="normal" text-anchor="start" textLength="36.5" lengthAdjust="spacingAndGlyphs" >30.00</text>
<rect x="1702" y="928" width="70" height="20.9" fill="#ffffff" />
<path d="M1702,848.25h51.5a3,3 0 0 1 3,3v14.5a3,3 0 0 1 -3,3h-51.5z" fill="#7e57c2"/>
<text x="1713" y="862.91" font-size="14" fill="#fff" font-weight="bold" text-anchor="start" textLength="36.5" lengthAdjust="spacingAndGlyphs" >50.99</text>
<text x="1713" y="884.01" font-size="14" fill="#131722" font-weight="normal" text-anchor="start" textLength="36.5" lengthAdjust="spacingAndGlyphs" >46.75</text>
<path d="M1702,891.25h51.5a3,3 0 0 1 3,3v14.5a3,3 0 0 1 -3,3h-51.5z" fill="#ffeb3b"/>
<text x="1713" y="905.91" font-size="14" fill="#131722" font-weight="normal" text-anchor="start" textLength="36.5" lengthAdjust="spacingAndGlyphs" >41.76</text>
<text x="1713" y="943.21" font-size="14" fill="#131722" font-weight="normal" text-anchor="start" textLength="36.5" lengthAdjust="spacingAndGlyphs" >31.55</text>
<text x="93.2" y="1006.51" font-size="14" fill="#5c5c5c" font-weight="normal" text-anchor="middle" >3</text>
<text x="202.2" y="1006.51" font-size="14" fill="#5c5c5c" font-weight="normal" text-anchor="middle" >5</text>
<text x="311.2" y="1006.51" font-size="14" fill="#5c5c5c" font-weight="normal" text-anchor="middle" >7</text>
<text x="419.2" y="1006.51" font-size="14" fill="#5c5c5c" font-weight="normal" text-anchor="middle" >9</text>
<text x="528.2" y="1006.51" font-size="14" fill="#5c5c5c" font-weight="normal" text-anchor="middle" >11</text>
<text x="637.2" y="1006.51" font-size="14" fill="#5c5c5c" font-weight="normal" text-anchor="middle" >13</text>
<text x="800.2" y="1006.51" font-size="14" fill="#5c5c5c" font-weight="normal" text-anchor="middle" >16</text>
<text x="909.2" y="1006.51" font-size="14" fill="#5c5c5c" font-weight="normal" text-anchor="middle" >18</text>
<text x="1017.2" y="1006.51" font-size="14" fill="#5c5c5c" font-weight="normal" text-anchor="middle" >20</text>
<text x="1180.2" y="1006.51" font-size="14" fill="#5c5c5c" font-weight="normal" text-anchor="middle" >23</text>
<text x="1289.2" y="1006.51" font-size="14" fill="#5c5c5c" font-weight="normal" text-anchor="middle" >25</text>
<text x="1398.2" y="1006.51" font-size="14" fill="#5c5c5c" font-weight="normal" text-anchor="middle" >27</text>
<text x="1561.2" y="1006.51" font-size="14" fill="#5c5c5c" font-weight="normal" text-anchor="middle" >30</text>
<text x="1670" y="1006.51" font-size="14" fill="#484848" font-weight="bold" text-anchor="middle" textLength="33" lengthAdjust="spacingAndGlyphs" >2025</text>
<g fill="none" stroke="#131722" stroke-width="1.3" stroke-linejoin="round"><path d="M1734.5,1002l4.4,-7.6h8.9l4.4,7.6l-4.4,7.6h-8.9z"/><circle cx="1743.3" cy="1002" r="2.4"/></g>
<rect x="1706.5" y="6.5" width="71" height="31" rx="4" fill="#fff" stroke="#e0e3eb"/>
<text x="1711.5" y="27.51" font-size="14" fill="#131722" font-weight="normal" text-anchor="start" textLength="25.5" lengthAdjust="spacingAndGlyphs" >USD</text>
<path d="M1766.6,20.6l3.2,3l3.2,-3" fill="none" stroke="#131722" stroke-width="1.4"/>
<circle cx="17.5" cy="21" r="11.4" fill="#f7931a"/>
<text x="17.3" y="26.2" font-size="15" font-weight="bold" fill="#fff" text-anchor="middle" transform="rotate(12 17.3 21)">₿</text>
<text y="28.8" font-size="20" font-weight="normal" xml:space="preserve"><tspan x="34.25" textLength="60.75" lengthAdjust="spacingAndGlyphs" fill="#444444" stroke="#444444">Bitcoin</tspan> <tspan x="103.75" textLength="6.25" lengthAdjust="spacingAndGlyphs" fill="#444444" stroke="#444444">/</tspan> <tspan x="118.75" textLength="35" lengthAdjust="spacingAndGlyphs" fill="#444444" stroke="#444444">U.S.</tspan> <tspan x="162.5" textLength="51.25" lengthAdjust="spacingAndGlyphs" fill="#444444" stroke="#444444">Dollar</tspan> <tspan x="218.5" fill="#444444" stroke="#444444">·</tspan> <tspan x="230" textLength="20" lengthAdjust="spacingAndGlyphs" fill="#444444" stroke="#444444">4h</tspan> <tspan x="256" fill="#444444" stroke="#444444">·</tspan> <tspan x="266.25" textLength="83.75" lengthAdjust="spacingAndGlyphs" fill="#444444" stroke="#444444">BITSTAMP</tspan></text>
<circle cx="380.75" cy="21.25" r="11" fill="#d9f0ec"/><circle cx="380.75" cy="21.25" r="5" fill="#089981"/>
<text y="27" font-size="16" font-weight="normal" xml:space="preserve"><tspan x="411.7" textLength="11.5" lengthAdjust="spacingAndGlyphs" fill="#4e4f55" stroke="#4e4f55">O</tspan> <tspan x="425.8" textLength="47.2" lengthAdjust="spacingAndGlyphs" fill="#2f6b45" stroke="#2f6b45">94,088</tspan> <tspan x="480.2" textLength="11" lengthAdjust="spacingAndGlyphs" fill="#4e4f55" stroke="#4e4f55">H</tspan> <tspan x="492.8" textLength="47.7" lengthAdjust="spacingAndGlyphs" fill="#2f6b45" stroke="#2f6b45">94,782</tspan> <tspan x="548.4" textLength="8" lengthAdjust="spacingAndGlyphs" fill="#4e4f55" stroke="#4e4f55">L</tspan> <tspan x="558.3" textLength="47.7" lengthAdjust="spacingAndGlyphs" fill="#2f6b45" stroke="#2f6b45">94,088</tspan> <tspan x="613.8" textLength="9.5" lengthAdjust="spacingAndGlyphs" fill="#4e4f55" stroke="#4e4f55">C</tspan> <tspan x="625.3" textLength="47.7" lengthAdjust="spacingAndGlyphs" fill="#2f6b45" stroke="#2f6b45">94,432</tspan> <tspan x="681.5" textLength="33.5" lengthAdjust="spacingAndGlyphs" fill="#2f6b45" stroke="#2f6b45">+344</tspan> <tspan x="720.8" textLength="61" lengthAdjust="spacingAndGlyphs" fill="#2f6b45" stroke="#2f6b45">(+0.37%)</tspan></text>
<rect x="5.5" y="41.5" width="75" height="42" rx="6" fill="#fff" stroke="#f23645"/>
<text x="43" y="59.78" font-size="15.3" fill="#f23645" font-weight="bold" text-anchor="middle" textLength="49.5" lengthAdjust="spacingAndGlyphs" >94,415</text>
<text x="43" y="76.47" font-size="12.5" fill="#f23645" font-weight="normal" text-anchor="middle" textLength="29.5" lengthAdjust="spacingAndGlyphs" >SELL</text>
<text x="94.5" y="66.05" font-size="12" fill="#4e4f55" font-weight="normal" text-anchor="middle" >1</text>
<rect x="108.5" y="41.5" width="75" height="42" rx="6" fill="#fff" stroke="#2962ff"/>
<text x="146" y="59.78" font-size="15.3" fill="#2962ff" font-weight="bold" text-anchor="middle" textLength="49.5" lengthAdjust="spacingAndGlyphs" >94,416</text>
<text x="146" y="76.47" font-size="12.5" fill="#2962ff" font-weight="normal" text-anchor="middle" textLength="25.5" lengthAdjust="spacingAndGlyphs" >BUY</text>
<rect x="6.5" y="91.5" width="39" height="25" rx="4" fill="#fff" stroke="#e0e3eb"/>
<path d="M14.8,101.6l4.9,4.3l4.9,-4.3" fill="none" stroke="#131722" stroke-width="1.5"/>
<text x="35" y="109.37" font-size="15" fill="#131722" stroke="#131722" font-weight="normal" text-anchor="middle" >1</text>
<g><circle cx="1643.5" cy="696.5" r="12.1" fill="none" stroke="#7b4ffb" stroke-width="1.5"/><path d="M1643.5,689.8c1,3.5 3.2,5.7 6.7,6.7c-3.5,1 -5.7,3.2 -6.7,6.7c-1,-3.5 -3.2,-5.7 -6.7,-6.7c3.5,-1 5.7,-3.2 6.7,-6.7z" fill="#7b4ffb"/></g>
<g><path d="M1647.2,715.9a12,12 0 1 0 7.9,8.3" fill="none" stroke="#8e1a9e" stroke-width="1.5"/><path d="M1646.9,720.5l-9.3,7.6h5.7l-4.2,6.7l11.2,-8.5h-5.9z" fill="#8e1a9e"/><circle cx="1652.1" cy="718.8" r="3.1" fill="#f23645"/></g>
<g fill="#131722"><path d="M10.1,948.2h14.6v18.3h-7.4v-11.1h-7.2z"/><circle cx="30.9" cy="951.7" r="3.4"/><path d="M37.3,948.2h9.7l-6.8,18.3h-8.7z"/></g>
<text x="56.2" y="966.15" font-size="25" fill="#131722" font-weight="bold" text-anchor="start" textLength="150.8" lengthAdjust="spacingAndGlyphs" >TradingView</text>
</svg></body></html>
